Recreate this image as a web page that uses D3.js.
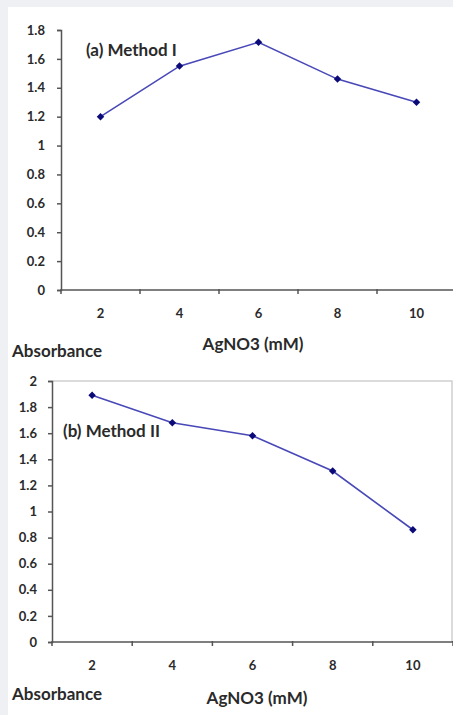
<!DOCTYPE html>
<html>
<head>
<meta charset="utf-8">
<script src="https://cdn.jsdelivr.net/npm/d3@7"></script>
<style>
  body { margin: 0; background: #eef0f3; }
  svg { display: block; }
  text { font-family: Lato, "Open Sans", sans-serif; fill: #2a2a2a; font-weight: 700; }
</style>
</head>
<body>
<svg id="chart" width="453" height="715"></svg>
<script>
// AgNO3 concentrations (mM) and absorbance for the two methods
var concentrations = ["2", "4", "6", "8", "10"];
var methodOne = [1.20, 1.55, 1.715, 1.46, 1.30];
var methodTwo = [1.89, 1.68, 1.58, 1.31, 0.86];
var ticksOne = [0, 0.2, 0.4, 0.6, 0.8, 1, 1.2, 1.4, 1.6, 1.8];
var ticksTwo = [0, 0.2, 0.4, 0.6, 0.8, 1, 1.2, 1.4, 1.6, 1.8, 2];

var svg = d3.select("#chart");

// white panel
svg.append("rect")
    .attr("x", 8).attr("y", 7)
    .attr("width", 445).attr("height", 708)
    .attr("fill", "#fff");

function drawPanel(opt) {
    var g = svg.append("g");

    var x = d3.scaleBand()
        .domain(opt.cats)
        .range([opt.left, opt.right]);

    var y = d3.scaleLinear()
        .domain([0, opt.ymax])
        .range([opt.bottom, opt.top]);

    if (opt.frame) {
        g.append("path")
            .attr("d", "M" + opt.left + "," + opt.top + "H" + (opt.right - 1) + "V" + opt.bottom)
            .attr("fill", "none")
            .attr("stroke", "#cfcfcf")
            .attr("stroke-width", 1.5);
    }

    // y axis
    var yAxis = g.append("g")
        .attr("transform", "translate(" + opt.left + ",0)")
        .call(d3.axisLeft(y).tickValues(opt.ticks).tickSize(4).tickPadding(opt.tickPad)
            .tickFormat(function(d){ return String(d); }));
    yAxis.select(".domain").attr("stroke", "#555").attr("stroke-width", 1.5);
    yAxis.selectAll(".tick line").attr("stroke", "#555").attr("stroke-width", 1.5);
    yAxis.selectAll("text")
        .attr("font-size", "13px").attr("font-weight", 700)
        .attr("font-family", "Lato, sans-serif").attr("fill", "#2a2a2a");

    // x axis with ticks between categories
    var bounds = opt.cats.map(function(c){ return x(c); }).concat([opt.right]);
    g.append("line")
        .attr("x1", opt.left).attr("x2", opt.right)
        .attr("y1", opt.bottom).attr("y2", opt.bottom)
        .attr("stroke", "#555").attr("stroke-width", 1.5);
    g.selectAll(".xtick")
        .data(bounds)
        .enter().append("line")
            .attr("x1", function(d){ return d; })
            .attr("x2", function(d){ return d; })
            .attr("y1", opt.bottom - 1)
            .attr("y2", opt.bottom + 4)
            .attr("stroke", "#555").attr("stroke-width", 1.5);
    g.selectAll(".xlabel")
        .data(opt.cats)
        .enter().append("text")
            .attr("x", function(d){ return x(d) + x.bandwidth() / 2; })
            .attr("y", opt.bottom + 23)
            .attr("dominant-baseline", "central")
            .attr("text-anchor", "middle")
            .attr("font-size", "13px")
            .text(function(d){ return d; });

    // line + markers
    var line = d3.line()
        .x(function(d, i){ return x(opt.cats[i]) + x.bandwidth() / 2; })
        .y(function(d){ return y(d); });

    g.append("path")
        .datum(opt.values)
        .attr("d", line)
        .attr("fill", "none")
        .attr("stroke", "#4848b8")
        .attr("stroke-width", 1.6);

    g.selectAll(".pt")
        .data(opt.values)
        .enter().append("path")
            .attr("d", d3.symbol(d3.symbolSquare, 28))
            .attr("transform", function(d, i){
                return "translate(" + (x(opt.cats[i]) + x.bandwidth() / 2) + "," + y(d) + ") rotate(45)";
            })
            .attr("fill", "#0a0a78");

    // labels
    g.append("text")
        .attr("x", opt.titleX).attr("y", opt.titleY)
        .attr("dominant-baseline", "central")
        .attr("font-size", "17px")
        .text(opt.title);
    g.append("text")
        .attr("x", opt.xLabelX).attr("y", opt.xLabelY)
        .attr("dominant-baseline", "central")
        .attr("text-anchor", "middle")
        .attr("font-size", "17px")
        .text("AgNO3 (mM)");
    g.append("text")
        .attr("x", 12).attr("y", opt.absY)
        .attr("dominant-baseline", "central")
        .attr("font-size", "17px")
        .text("Absorbance");
}

drawPanel({
    cats: concentrations, values: methodOne, ticks: ticksOne, ymax: 1.8,
    left: 61, right: 456, top: 30, bottom: 290, tickPad: 12,
    title: "(a) Method I", titleX: 86, titleY: 49,
    xLabelX: 253, xLabelY: 343, absY: 350, frame: false
});

drawPanel({
    cats: concentrations, values: methodTwo, ticks: ticksTwo, ymax: 2,
    left: 52, right: 453, top: 381, bottom: 642, tickPad: 11,
    title: "(b) Method II", titleX: 63, titleY: 430,
    xLabelX: 257, xLabelY: 697, absY: 693, frame: true
});
</script>
</body>
</html>
